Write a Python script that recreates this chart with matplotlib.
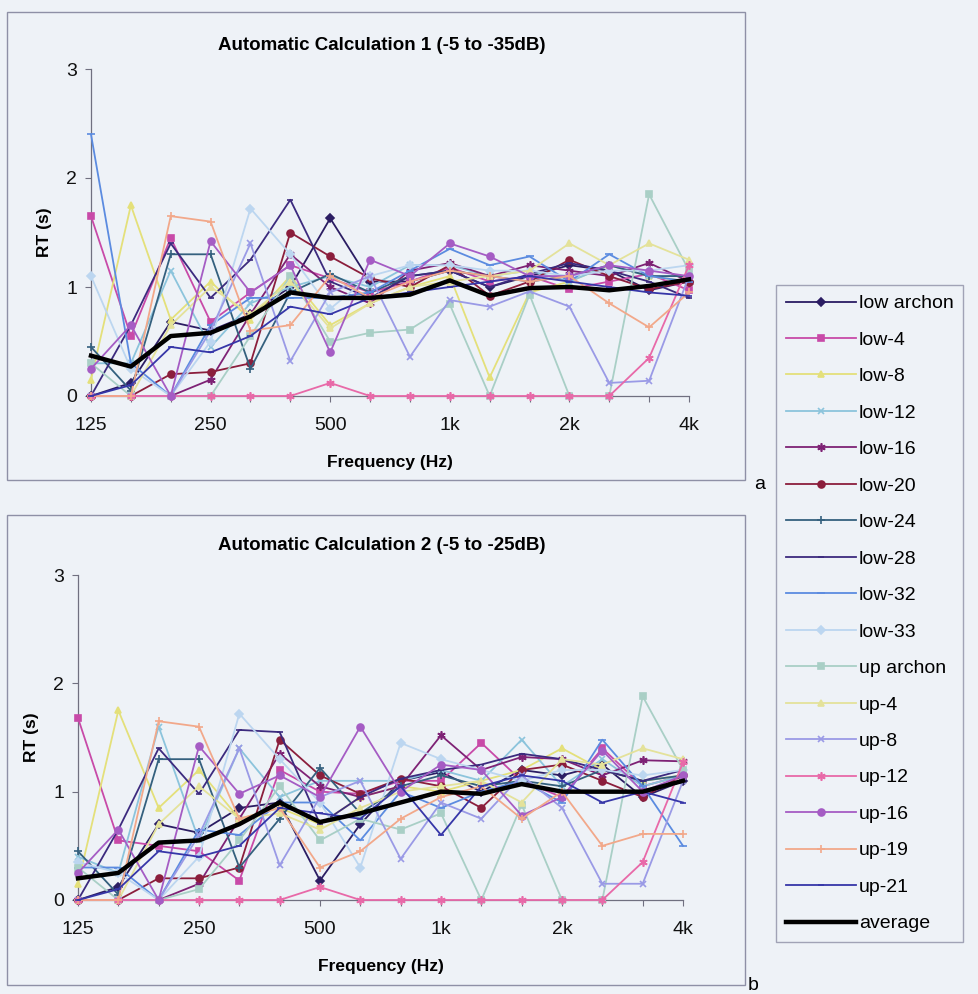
import matplotlib
matplotlib.use("Agg")
import matplotlib.pyplot as plt
import numpy as np

BG = "#eef2f7"
EDGE = "#8e90a6"

bands = ["125", "160", "200", "250", "315", "400", "500", "630", "800",
         "1k", "1.25k", "1.6k", "2k", "2.5k", "3.15k", "4k"]
tick_labels = ["125", "", "", "250", "", "", "500", "", "", "1k", "", "", "2k", "", "", "4k"]

series_names = ["low archon", "low-4", "low-8", "low-12", "low-16", "low-20",
                "low-24", "low-28", "low-32", "low-33", "up archon", "up-4",
                "up-8", "up-12", "up-16", "up-19", "up-21", "average"]

# --- chart a: -5 to -35 dB ---
a_low_archon = [0.00, 0.12, 0.68, 0.60, 0.75, 1.00, 1.63, 1.05, 1.05, 1.15, 1.00, 1.10, 1.20, 1.15, 0.97, 1.05]
a_low_4      = [1.65, 0.55, 1.45, 0.68, 0.95, 1.20, 1.08, 0.95, 1.05, 1.18, 1.05, 1.10, 0.98, 1.05, 1.12, 0.97]
a_low_8      = [0.15, 1.75, 0.70, 1.05, 0.70, 1.10, 0.65, 0.85, 1.00, 1.10, 0.17, 0.95, 1.05, 1.20, 1.10, 1.05]
a_low_12     = [0.30, 0.30, 1.15, 0.45, 0.85, 1.00, 1.10, 1.00, 1.20, 1.20, 1.10, 1.15, 1.05, 1.20, 1.10, 1.10]
a_low_16     = [0.00, 0.00, 0.00, 0.15, 0.75, 1.30, 1.00, 0.85, 1.15, 1.22, 1.10, 1.20, 1.15, 1.10, 1.22, 1.05]
a_low_20     = [0.00, 0.00, 0.20, 0.22, 0.30, 1.50, 1.28, 1.08, 1.00, 1.20, 0.92, 1.05, 1.25, 1.10, 0.98, 1.05]
a_low_24     = [0.45, 0.05, 1.30, 1.30, 0.25, 0.95, 1.12, 0.95, 1.10, 1.15, 1.10, 1.05, 1.10, 1.20, 1.10, 1.10]
a_low_28     = [0.00, 0.65, 1.40, 0.90, 1.25, 1.80, 1.05, 0.90, 1.10, 1.15, 1.00, 1.12, 1.22, 1.15, 1.05, 0.90]
a_low_32     = [2.40, 0.30, 0.00, 0.65, 0.90, 0.90, 0.90, 0.95, 1.15, 1.35, 1.20, 1.28, 1.05, 1.30, 1.10, 1.05]
a_low_33     = [1.10, 0.25, 0.00, 0.50, 1.72, 1.30, 0.80, 1.10, 1.20, 1.20, 1.15, 1.15, 1.10, 1.15, 1.15, 1.20]
a_up_archon  = [0.30, 0.00, 0.00, 0.00, 0.55, 1.10, 0.50, 0.58, 0.61, 0.84, 0.00, 0.93, 0.00, 0.00, 1.85, 1.15]
a_up_4       = [0.00, 0.00, 0.65, 1.00, 0.75, 1.05, 0.62, 0.85, 1.00, 1.05, 1.10, 1.15, 1.40, 1.20, 1.40, 1.25]
a_up_8       = [0.00, 0.00, 0.00, 0.60, 1.40, 0.32, 0.95, 1.10, 0.36, 0.88, 0.82, 0.96, 0.82, 0.12, 0.14, 1.10]
a_up_12      = [0.00, 0.00, 0.00, 0.00, 0.00, 0.00, 0.12, 0.00, 0.00, 0.00, 0.00, 0.00, 0.00, 0.00, 0.35, 1.20]
a_up_16      = [0.25, 0.65, 0.00, 1.42, 0.95, 1.20, 0.40, 1.25, 1.10, 1.40, 1.28, 1.10, 1.10, 1.20, 1.15, 1.10]
a_up_19      = [0.00, 0.00, 1.65, 1.60, 0.60, 0.65, 1.10, 0.90, 1.05, 1.15, 1.10, 1.05, 1.10, 0.85, 0.63, 0.95]
a_up_21      = [0.00, 0.10, 0.45, 0.40, 0.55, 0.82, 0.75, 0.90, 0.95, 1.00, 1.05, 1.10, 1.05, 1.00, 0.95, 0.92]
a_average    = [0.37, 0.27, 0.55, 0.58, 0.73, 0.95, 0.90, 0.90, 0.93, 1.06, 0.92, 0.99, 1.00, 0.97, 1.01, 1.07]

# --- chart b: -5 to -25 dB ---
b_low_archon = [0.00, 0.12, 0.70, 0.62, 0.85, 0.90, 0.18, 0.70, 1.10, 1.18, 1.00, 1.20, 1.15, 1.25, 0.95, 1.10]
b_low_4      = [1.68, 0.55, 0.50, 0.45, 0.18, 1.20, 1.00, 0.98, 1.10, 1.10, 1.45, 1.10, 0.95, 1.40, 1.05, 1.15]
b_low_8      = [0.15, 1.75, 0.85, 1.20, 0.75, 0.85, 0.70, 0.95, 1.05, 1.00, 1.10, 1.20, 1.40, 1.20, 1.10, 1.15]
b_low_12     = [0.40, 0.25, 1.60, 0.55, 1.40, 0.95, 1.10, 1.10, 1.10, 1.20, 1.10, 1.48, 1.05, 1.30, 1.05, 1.15]
b_low_16     = [0.00, 0.00, 0.00, 0.15, 0.75, 1.35, 1.05, 0.95, 1.05, 1.52, 1.20, 1.32, 1.30, 1.15, 1.29, 1.28]
b_low_20     = [0.00, 0.00, 0.20, 0.20, 0.30, 1.48, 1.15, 0.98, 1.12, 1.05, 0.85, 1.20, 1.25, 1.10, 0.95, 1.15]
b_low_24     = [0.45, 0.05, 1.30, 1.30, 0.30, 0.75, 1.22, 0.80, 1.05, 1.15, 1.05, 1.10, 1.05, 1.20, 1.10, 1.15]
b_low_28     = [0.00, 0.65, 1.40, 0.98, 1.57, 1.55, 0.70, 0.95, 1.12, 1.20, 1.25, 1.35, 1.30, 1.20, 1.10, 1.20]
b_low_32     = [0.30, 0.30, 0.00, 0.65, 0.60, 0.90, 0.90, 0.55, 1.00, 0.85, 1.00, 1.10, 0.90, 1.48, 1.05, 0.50]
b_low_33     = [0.35, 0.25, 0.00, 0.40, 1.72, 1.30, 0.90, 0.30, 1.45, 1.30, 1.20, 1.10, 1.20, 1.20, 1.15, 1.20]
b_up_archon  = [0.30, 0.00, 0.00, 0.10, 0.55, 1.05, 0.55, 0.75, 0.65, 0.80, 0.00, 0.88, 0.00, 0.00, 1.88, 1.20]
b_up_4       = [0.00, 0.00, 0.70, 1.05, 0.75, 0.80, 0.65, 0.85, 1.00, 1.05, 1.10, 0.90, 1.30, 1.25, 1.40, 1.30]
b_up_8       = [0.00, 0.00, 0.00, 0.60, 1.40, 0.32, 0.95, 1.10, 0.38, 0.90, 0.75, 1.15, 0.85, 0.15, 0.15, 1.10]
b_up_12      = [0.00, 0.00, 0.00, 0.00, 0.00, 0.00, 0.12, 0.00, 0.00, 0.00, 0.00, 0.00, 0.00, 0.00, 0.35, 1.27]
b_up_16      = [0.25, 0.65, 0.00, 1.42, 0.98, 1.15, 0.95, 1.60, 1.00, 1.25, 1.20, 0.78, 0.95, 1.38, 1.00, 1.15]
b_up_19      = [0.00, 0.00, 1.65, 1.60, 0.75, 0.85, 0.30, 0.45, 0.75, 0.95, 1.05, 0.75, 1.00, 0.50, 0.61, 0.61]
b_up_21      = [0.00, 0.10, 0.45, 0.40, 0.50, 0.85, 0.80, 0.75, 1.05, 0.60, 1.05, 1.15, 1.10, 0.90, 1.00, 0.90]
b_average    = [0.20, 0.25, 0.53, 0.55, 0.70, 0.90, 0.72, 0.80, 0.90, 1.00, 0.98, 1.07, 1.00, 1.00, 1.00, 1.10]

data_a = [a_low_archon, a_low_4, a_low_8, a_low_12, a_low_16, a_low_20, a_low_24,
          a_low_28, a_low_32, a_low_33, a_up_archon, a_up_4, a_up_8, a_up_12,
          a_up_16, a_up_19, a_up_21, a_average]
data_b = [b_low_archon, b_low_4, b_low_8, b_low_12, b_low_16, b_low_20, b_low_24,
          b_low_28, b_low_32, b_low_33, b_up_archon, b_up_4, b_up_8, b_up_12,
          b_up_16, b_up_19, b_up_21, b_average]

# style per series: colour, marker, marker size
styles = [
    ("#2b1d63", "D", 4.5),
    ("#c84aa8", "s", 4.5),
    ("#e4e07a", "^", 5),
    ("#8cc4dc", "x", 5),
    ("#7e2275", (6, 2, 0), 6),
    ("#8b1e3c", "o", 5),
    ("#34607e", "+", 6),
    ("#3c2a7e", "_", 5),
    ("#5b8be0", "_", 6),
    ("#bcd6f0", "D", 4.5),
    ("#a9cfc6", "s", 4.5),
    ("#e4e29a", "^", 5),
    ("#9a9ae6", "x", 5),
    ("#e869a8", (6, 2, 0), 6),
    ("#a55cc4", "o", 5),
    ("#f2a88a", "+", 6),
    ("#3636a8", "_", 5),
    ("#000000", None, 0),
]

plt.rcParams["font.family"] = ["Liberation Sans", "DejaVu Sans"]

W, H = 979, 994
fig = plt.figure(figsize=(W / 100, H / 100), dpi=100)
fig.patch.set_facecolor(BG)


def fx(px):
    return px / W


def fy(py):
    return 1 - py / H


def draw_chart(box, plot, title, title_y, data):
    # outer chart frame
    x0, y0, x1, y1 = box
    frame = plt.Rectangle((fx(x0), fy(y1)), fx(x1 - x0), fy(y0) - fy(y1),
                          transform=fig.transFigure, fill=False,
                          edgecolor=EDGE, lw=1.0)
    fig.add_artist(frame)

    px0, py3, px1, py0 = plot
    ax = fig.add_axes([fx(px0), fy(py0), fx(px1 - px0), fy(py3) - fy(py0)])
    ax.set_facecolor("none")
    x = np.arange(len(bands))
    lines = []
    for vals, (col, mk, ms), name in zip(data, styles, series_names):
        if name == "average":
            ln, = ax.plot(x, vals, color=col, lw=3.2, zorder=5, label=name)
        else:
            ln, = ax.plot(x, vals, color=col, lw=1.3, marker=mk, ms=ms,
                          mfc=col, mec=col, mew=1.2, label=name, zorder=3)
        ln.set_clip_on(False)
        lines.append(ln)

    ax.set_xlim(0, 15)
    ax.set_ylim(0, 3)
    ax.set_yticks([0, 1, 2, 3])
    ax.set_xticks(x)
    ax.set_xticklabels(tick_labels)
    for s in ["top", "right"]:
        ax.spines[s].set_visible(False)
    for s in ["left", "bottom"]:
        ax.spines[s].set_color("#707080")
        ax.spines[s].set_linewidth(0.9)
    ax.tick_params(axis="both", colors="#707080", labelcolor="#111111",
                   labelsize=14, length=4, direction="out")
    ax.tick_params(axis="x", pad=11)
    ax.tick_params(axis="y", pad=6)
    ax.set_ylabel("RT (s)", fontsize=12.5, fontweight="bold", labelpad=10)
    ax.set_xlabel("Frequency (Hz)", fontsize=12.5, fontweight="bold", labelpad=15)
    fig.text(fx(382), fy(title_y), title, fontsize=13.5, fontweight="bold",
             ha="center", va="center")
    return lines


lines = draw_chart((7, 12, 745, 480), (91, 69, 689, 396),
                   "Automatic Calculation 1 (-5 to -35dB)", 45, data_a)
draw_chart((7, 515, 745, 985), (78, 575, 683, 900),
           "Automatic Calculation 2 (-5 to -25dB)", 545, data_b)

fig.text(fx(760), fy(485), "a", fontsize=14, ha="center", va="center")
fig.text(fx(753), fy(985), "b", fontsize=14, ha="center", va="center")

leg = fig.legend(lines, series_names, loc="upper left",
                 bbox_to_anchor=(fx(776), fy(285)), bbox_transform=fig.transFigure,
                 fontsize=14, handlelength=3.6, handletextpad=0.15,
                 labelspacing=0.97, borderpad=0.5, borderaxespad=0.0,
                 frameon=True, fancybox=False)
leg.get_frame().set_edgecolor(EDGE)
leg.get_frame().set_facecolor(BG)
leg.get_frame().set_linewidth(1.0)

fig.savefig("out.png", dpi=100, facecolor=BG)
